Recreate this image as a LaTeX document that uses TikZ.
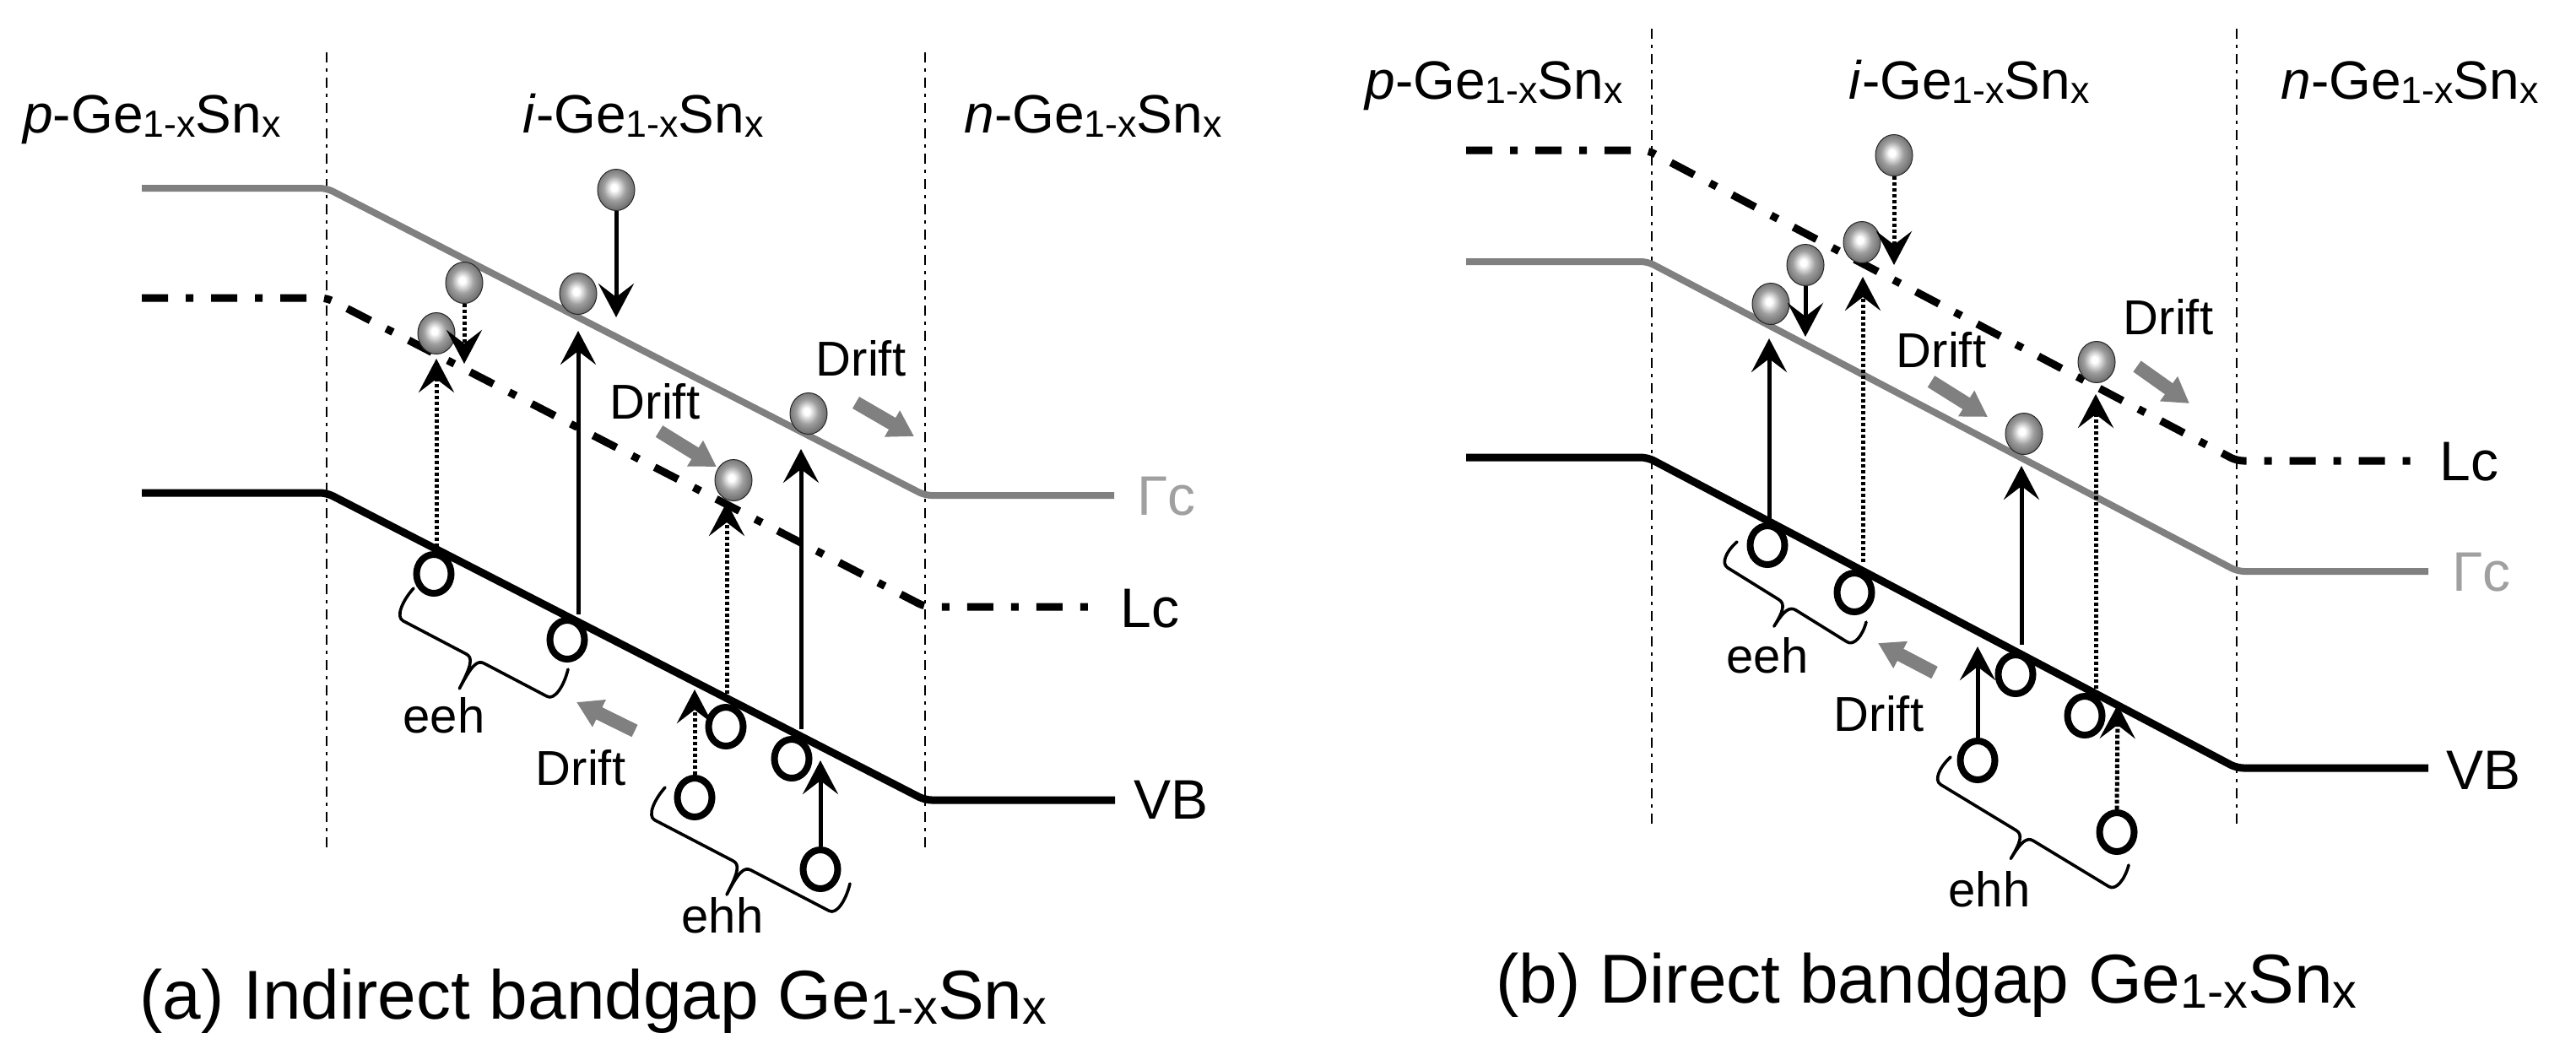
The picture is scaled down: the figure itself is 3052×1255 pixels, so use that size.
\documentclass[tikz,border=0pt]{standalone}
\usepackage{fontspec}
\setmainfont{Liberation Sans}
\usepackage{graphicx}
\usetikzlibrary{arrows.meta,shapes.geometric}
\newcommand\lsub[1]{\raisebox{-0.08em}{\scalebox{0.7}{#1}}}
\newcommand\gesn{Ge\lsub{1-x}Sn\lsub{x}}
\definecolor{bandgray}{RGB}{128,128,128}
\definecolor{labgray}{RGB}{160,160,160}
\pgfdeclareradialshading{elshade}{\pgfpoint{-3bp}{3bp}}{color(0bp)=(white); color(4bp)=(white); color(15bp)=(black!38); color(30bp)=(black!64); color(42bp)=(black!80); color(50bp)=(black!92)}
\begin{document}
\begin{tikzpicture}[x=0.5pt,y=-0.5pt,
  divider/.style={line width=1.4pt, dash pattern=on 6pt off 3.5pt on 2pt off 3.5pt},
  gband/.style={line width=4pt, draw=bandgray, rounded corners=4pt},
  lband/.style={line width=4.5pt, dash pattern=on 15.5pt off 10.5pt on 4.5pt off 10.5pt, rounded corners=4pt},
  vband/.style={line width=4.5pt, rounded corners=4pt},
  elec/.style={ellipse, minimum width=22pt, minimum height=24.5pt, inner sep=0pt, shade, shading=elshade, draw=black!85, line width=0.5pt},
  hole/.style={ellipse, draw, line width=4pt, minimum width=20.5pt, minimum height=23pt, inner sep=0pt},
  sarr/.style={line width=2.5pt, -{Stealth[length=20pt,width=21pt,inset=8pt]}},
  darr/.style={sarr, dash pattern=on 2.2pt off 1.3pt},
  drift/.style={line width=8pt, draw=bandgray, -{Triangle[length=15pt,width=17pt]}},
  brc/.style={line width=1.8pt, line join=round, line cap=round},
  reg/.style={font=\fontsize{32pt}{38pt}\selectfont, anchor=base, inner sep=0pt},
  lab/.style={font=\fontsize{33pt}{40pt}\selectfont, anchor=base west, inner sep=0pt},
  sm/.style={font=\fontsize{29pt}{35pt}\selectfont, anchor=base, inner sep=0pt},
  captxt/.style={font=\fontsize{41pt}{48pt}\selectfont, anchor=base west, inner sep=0pt},
]
\useasboundingbox (0,0) rectangle (3052,1255);

% ================= panel (a) =================
\draw[divider] (387,62) -- (387,1008);
\draw[divider] (1096,62) -- (1096,1008);
\draw[gband] (168,223) -- (387,223) -- (1096,587) -- (1320,587);
\draw[lband] (168,353) -- (387,353) -- (1096,719) -- (1307,719);
\draw[vband] (168,584) -- (387,584) -- (1096,948) -- (1321,948);

\node[reg] (pa) at (180,157) {\textit{p}-\gesn};
\node[reg] (ia) at (762,157) {\textit{i}-\gesn};
\node[reg] (na) at (1295,157) {\textit{n}-\gesn};

\node[lab, text=labgray] (gca) at (1347,610) {Γc};
\node[lab] (lca) at (1327,743) {Lc};
\node[lab] (vba) at (1343,970) {VB};

\node[hole] (ha1) at (514,680) {};
\node[hole] (ha2) at (672,758) {};
\node[hole] (ha3) at (860,861) {};
\node[hole] (ha4) at (938,899) {};
\node[hole] (ha5) at (823,945) {};
\node[hole] (ha6) at (972,1030) {};

\node[elec] (ea1) at (730,225) {};
\node[elec] (ea2) at (550,335) {};
\node[elec] (ea3) at (517,395) {};
\node[elec] (ea4) at (685,348) {};
\node[elec] (ea5) at (869,569) {};
\node[elec] (ea6) at (958,490) {};

\coordinate (ta1) at (730,376);
\coordinate (ta2) at (550,431);
\coordinate (sa3) at (517,648); \coordinate (ta3) at (517,425);
\coordinate (sa4) at (685,728); \coordinate (ta4) at (685,392);
\coordinate (sa5) at (861,822); \coordinate (ta5) at (861,595);
\coordinate (sa6) at (949,864); \coordinate (ta6) at (949,532);
\coordinate (ta7) at (823,817);
\coordinate (ta8) at (972,901);
\draw[sarr] (ea1.south) -- (ta1);
\draw[darr] (ea2.south) -- (ta2);
\draw[darr] (sa3) -- (ta3);
\draw[sarr] (sa4) -- (ta4);
\draw[darr] (sa5) -- (ta5);
\draw[sarr] (sa6) -- (ta6);
\draw[darr] (ha5.north) -- (ta7);
\draw[sarr] (ha6.north) -- (ta8);

\node[sm] (dra1) at (776,496) {Drift};
\node[sm] (dra2) at (1020,445) {Drift};
\node[sm] (dra3) at (688,930) {Drift};
\node[sm] (eeha) at (526,868) {eeh};
\node[sm] (ehha) at (856,1105) {ehh};

\coordinate (ga1s) at (781,511); \coordinate (ga1e) at (849,553);
\coordinate (ga2s) at (1014,477); \coordinate (ga2e) at (1083,517);
\coordinate (ga3s) at (752,866); \coordinate (ga3e) at (683,832);
\draw[drift] (ga1s) -- (ga1e);
\draw[drift] (ga2s) -- (ga2e);
\draw[drift] (ga3s) -- (ga3e);

% braces (a)
\begin{scope}[shift={(490,697)}, x={(0.4429pt,-0.2324pt)}, y={(-0.2324pt,-0.4429pt)}]
\draw[brc] (0,0) .. controls (-5,20) and (-3,40) .. (7,40) -- (91.3,40) .. controls (100.3,40) and (103.3,48) .. (103.3,80) .. controls (103.3,48) and (106.3,40) .. (115.3,40) -- (199.6,40) .. controls (209.6,40) and (211.6,20) .. (206.6,0);
\end{scope}
\begin{scope}[shift={(788,933)}, x={(0.4435pt,-0.2309pt)}, y={(-0.2309pt,-0.4435pt)}]
\draw[brc] (0,0) .. controls (-5,20) and (-3,40) .. (7,40) -- (111.45,40) .. controls (120.45,40) and (123.45,48) .. (123.45,79) .. controls (123.45,48) and (126.45,40) .. (135.45,40) -- (239.9,40) .. controls (249.9,40) and (251.9,20) .. (246.9,0);
\end{scope}

\node[captxt] (capa) at (165,1207) {(a) Indirect bandgap \gesn};

% ================= panel (b) =================
\draw[divider] (1957,34) -- (1957,979);
\draw[divider] (2650,34) -- (2650,979);
\draw[lband] (1737,178) -- (1952,178) -- (2650,546) -- (2863,546);
\draw[gband] (1737,310) -- (1952,310) -- (2651,677) -- (2877,677);
\draw[vband] (1737,542) -- (1952,542) -- (2650,910) -- (2877,910);

\node[reg] (pb) at (1770,117) {\textit{p}-\gesn};
\node[reg] (ib) at (2333,117) {\textit{i}-\gesn};
\node[reg] (nb) at (2855,117) {\textit{n}-\gesn};

\node[lab] (lcb) at (2890,569) {Lc};
\node[lab, text=labgray] (gcb) at (2905,700) {Γc};
\node[lab] (vbb) at (2898,935) {VB};

\node[hole] (hb1) at (2094,646) {};
\node[hole] (hb2) at (2197,702) {};
\node[hole] (hb3) at (2388,799) {};
\node[hole] (hb4) at (2470,848) {};
\node[hole] (hb5) at (2343,901) {};
\node[hole] (hb6) at (2508,986) {};

\node[elec] (eb1) at (2244,184) {};
\node[elec] (eb2) at (2206,287) {};
\node[elec] (eb3) at (2139,314) {};
\node[elec] (eb4) at (2098,360) {};
\node[elec] (eb5) at (2398,514) {};
\node[elec] (eb6) at (2484,429) {};

\coordinate (tb1) at (2244,314);
\coordinate (sb2) at (2207,666); \coordinate (tb2) at (2207,328);
\coordinate (tb3) at (2139,399);
\coordinate (sb4) at (2096,614); \coordinate (tb4) at (2096,401);
\coordinate (sb5) at (2395,764); \coordinate (tb5) at (2395,552);
\coordinate (sb6) at (2483,816); \coordinate (tb6) at (2483,467);
\coordinate (tb7) at (2343,766);
\coordinate (tb8) at (2509,835);
\draw[darr] (eb1.south) -- (tb1);
\draw[darr] (sb2) -- (tb2);
\draw[sarr] (eb3.south) -- (tb3);
\draw[sarr] (sb4) -- (tb4);
\draw[sarr] (sb5) -- (tb5);
\draw[darr] (sb6) -- (tb6);
\draw[sarr] (hb5.north) -- (tb7);
\draw[darr] (hb6.north) -- (tb8);

\node[sm] (drb1) at (2300,435) {Drift};
\node[sm] (drb2) at (2569,396) {Drift};
\node[sm] (drb3) at (2226,866) {Drift};
\node[sm] (eehb) at (2094,797) {eeh};
\node[sm] (ehhb) at (2357,1074) {ehh};

\coordinate (gb1s) at (2288,452); \coordinate (gb1e) at (2355,494);
\coordinate (gb2s) at (2532,434); \coordinate (gb2e) at (2594,478);
\coordinate (gb3s) at (2292,797); \coordinate (gb3e) at (2225,762);
\draw[drift] (gb1s) -- (gb1e);
\draw[drift] (gb2s) -- (gb2e);
\draw[drift] (gb3s) -- (gb3e);

% braces (b)
\begin{scope}[shift={(2058,642)}, x={(0.4248pt,-0.2638pt)}, y={(-0.2638pt,-0.4248pt)}]
\draw[brc] (0,0) .. controls (-5,16) and (-3,32) .. (7,32) -- (78.05,32) .. controls (87.05,32) and (90.05,40) .. (90.05,62) .. controls (90.05,40) and (93.05,32) .. (102.05,32) -- (173.1,32) .. controls (183.1,32) and (185.1,16) .. (180.1,0);
\end{scope}
\begin{scope}[shift={(2311,897)}, x={(0.4275pt,-0.2593pt)}, y={(-0.2593pt,-0.4275pt)}]
\draw[brc] (0,0) .. controls (-5,17) and (-3,34) .. (7,34) -- (111.4,34) .. controls (120.4,34) and (123.4,42) .. (123.4,66) .. controls (123.4,42) and (126.4,34) .. (135.4,34) -- (239.8,34) .. controls (249.8,34) and (251.8,17) .. (246.8,0);
\end{scope}

\node[captxt] (capb) at (1772,1188) {(b) Direct bandgap \gesn};
\end{tikzpicture}
\end{document}
